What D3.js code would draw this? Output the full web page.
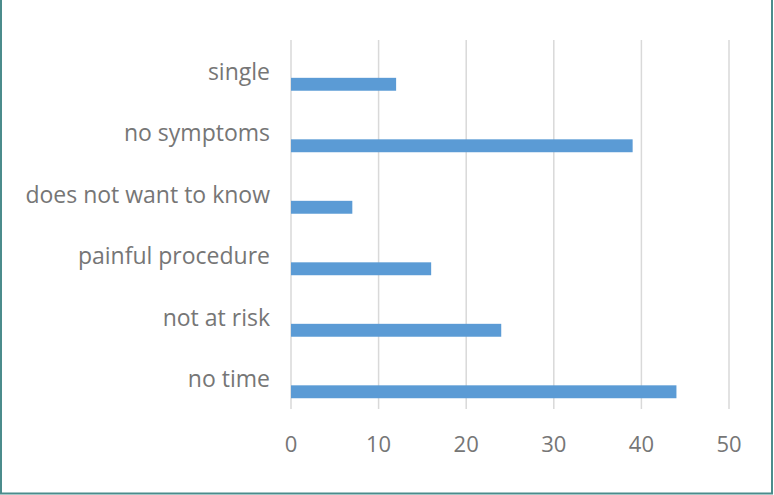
<!DOCTYPE html>
<html>
<head>
<meta charset="utf-8">
<script src="https://cdn.jsdelivr.net/npm/d3@7"></script>
<style>
  html, body { margin: 0; padding: 0; background: #fff; }
  svg { display: block; }
</style>
</head>
<body>
<script>
const categories = ['single', 'no symptoms', 'does not want to know', 'painful procedure', 'not at risk', 'no time']
const values = [12, 39, 7, 16, 24, 44]
const ticks = [0, 10, 20, 30, 40, 50]

const W = 774, H = 495
const margins = { top: 40, right: 45, bottom: 86, left: 291 }

const svg = d3.select('body').append('svg')
  .attr('width', W)
  .attr('height', H)

// frame
svg.append('path')
  .attr('d', `M1,0 V${H - 1.5} H${W - 2} V0`)
  .attr('fill', 'none')
  .attr('stroke', '#4b8c8c')
  .attr('stroke-width', 2)

const x = d3.scaleLinear()
  .domain([0, 50])
  .range([margins.left, W - margins.right])

const y = d3.scaleBand()
  .domain(categories)
  .range([margins.top, H - margins.bottom])

const bw = y.bandwidth()

// grid lines
svg.append('g')
  .selectAll('line')
  .data(ticks)
  .enter().append('line')
    .attr('x1', (d) => x(d))
    .attr('x2', (d) => x(d))
    .attr('y1', margins.top)
    .attr('y2', H - margins.bottom)
    .attr('stroke', '#d9d9d9')
    .attr('stroke-width', 1.5)

// bars
svg.append('g')
  .selectAll('rect')
  .data(categories)
  .enter().append('rect')
    .attr('x', x(0))
    .attr('y', (d) => y(d) + bw * 0.615)
    .attr('width', (d, i) => x(values[i]) - x(0))
    .attr('height', bw * 0.21)
    .attr('fill', '#5b9bd5')

// category labels
svg.append('g')
  .selectAll('text')
  .data(categories)
  .enter().append('text')
    .attr('x', 270)
    .attr('y', (d) => y(d) + bw * 0.648)
    .attr('text-anchor', 'end')
    .attr('font-family', '"Open Sans", sans-serif')
    .attr('font-size', 23)
    .attr('fill', '#767676')
    .text((d) => d)

// x axis tick labels
svg.append('g')
  .selectAll('text')
  .data(ticks)
  .enter().append('text')
    .attr('x', (d) => x(d))
    .attr('y', 452)
    .attr('text-anchor', 'middle')
    .attr('font-family', '"Open Sans", sans-serif')
    .attr('font-size', 22)
    .attr('fill', '#767676')
    .text((d) => d)
</script>
</body>
</html>
